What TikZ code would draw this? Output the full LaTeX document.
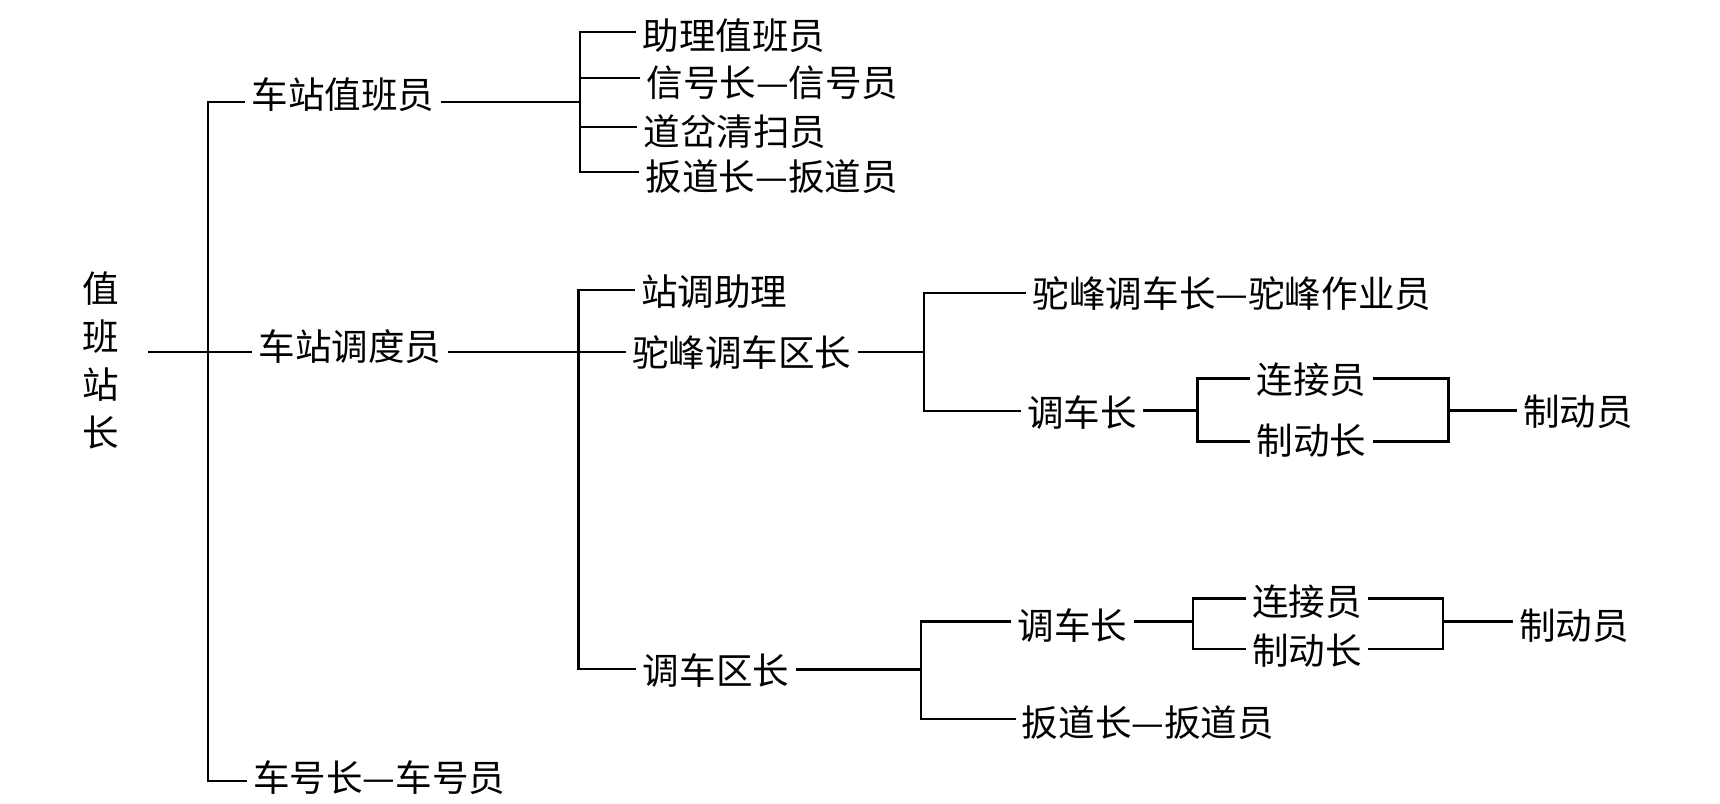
\documentclass[tikz,border=0pt]{standalone}
\usepackage{fontspec}
\newfontfamily\cjk{Noto Sans CJK SC}
\begin{document}
\begin{tikzpicture}[x=0.01cm,y=-0.01cm,
  lbl/.style={font=\cjk\fontsize{10.4}{12}\selectfont, inner xsep=2pt, inner ysep=1pt},
  ln/.style={line width=0.75pt, line cap=rect}]
\useasboundingbox (0,0) rectangle (1720,804);
% nodes
\node[lbl, align=center, font=\cjk\fontsize{10.4}{13.7}\selectfont, inner xsep=8.5pt] (root) at (100.5,360.5) {值\\班\\站\\长};
\node[lbl] (zbz) at (343,95) {车站值班员};
\node[lbl] (ddy) at (350,347) {车站调度员};
\node[lbl] (chz) at (379.3,778) {车号长—车号员};
\node[lbl] (zlz) at (734,36) {助理值班员};
\node[lbl] (xhz) at (772.5,82.5) {信号长—信号员};
\node[lbl] (dcq) at (735,131.5) {道岔清扫员};
\node[lbl] (bdz) at (771.7,176.5) {扳道长—扳道员};
\node[lbl] (zdzl) at (714.4,291.7) {站调助理};
\node[lbl] (tfq) at (741.8,353) {驼峰调车区长};
\node[lbl] (tfz) at (1232,294) {驼峰调车长—驼峰作业员};
\node[lbl] (dcz1) at (1082,413) {调车长};
\node[lbl] (ljy1) at (1311.5,380) {连接员};
\node[lbl] (zdz1) at (1311.5,440.5) {制动长};
\node[lbl] (zdy1) at (1578,411.7) {制动员};
\node[lbl] (dcq2) at (716,671) {调车区长};
\node[lbl] (dcz2) at (1072.3,626) {调车长};
\node[lbl] (ljy2) at (1307,602) {连接员};
\node[lbl] (zdz2) at (1307,651) {制动长};
\node[lbl] (zdy2) at (1574,626) {制动员};
\node[lbl] (bdz2) at (1148,723) {扳道长—扳道员};
% junction coordinates
\coordinate (t1) at (208,102);
\coordinate (t2) at (208,352);
\coordinate (t3) at (208,781);
\coordinate (a0) at (580,102);
\coordinate (a1) at (580,32);
\coordinate (a2) at (580,78);
\coordinate (a3) at (580,127);
\coordinate (a4) at (580,172);
\coordinate (b0) at (578.5,352);
\coordinate (b1) at (578.5,290);
\coordinate (b2) at (578.5,669);
\coordinate (c0) at (924,352);
\coordinate (c1) at (924,293);
\coordinate (c2) at (924,411);
\coordinate (d0) at (1197.6,410.7);
\coordinate (d1) at (1197.6,378.3);
\coordinate (d2) at (1197.6,441.7);
\coordinate (e0) at (1448.6,410.7);
\coordinate (e1) at (1448.6,378.3);
\coordinate (e2) at (1448.6,441.7);
\coordinate (f0) at (921,669.3);
\coordinate (f1) at (921,621.7);
\coordinate (f2) at (921,719);
\coordinate (g0) at (1193,621.7);
\coordinate (g1) at (1193,598.3);
\coordinate (g2) at (1193,649);
\coordinate (h0) at (1443,621.7);
\coordinate (h1) at (1443,598.3);
\coordinate (h2) at (1443,649);
% connectors
\draw[ln] (root.east |- t2) -- (t2) -- (ddy.west |- t2);
\draw[ln] (chz.west |- t3) -- (t3) -- (t1) -- (zbz.west |- t1);
\draw[ln] (zbz.east |- a0) -- (a0);
\draw[ln] (zlz.west |- a1) -- (a1) -- (a4) -- (bdz.west |- a4);
\draw[ln] (a2) -- (xhz.west |- a2);
\draw[ln] (a3) -- (dcq.west |- a3);
\draw[ln] (ddy.east |- b0) -- (b0) -- (tfq.west |- b0);
\draw[ln] (zdzl.west |- b1) -- (b1) -- (b2) -- (dcq2.west |- b2);
\draw[ln] (tfq.east |- c0) -- (c0);
\draw[ln] (tfz.west |- c1) -- (c1) -- (c2) -- (dcz1.west |- c2);
\draw[ln] (dcz1.east |- d0) -- (d0);
\draw[ln] (ljy1.west |- d1) -- (d1) -- (d2) -- (zdz1.west |- d2);
\draw[ln] (ljy1.east |- e1) -- (e1) -- (e2) -- (zdz1.east |- e2);
\draw[ln] (e0) -- (zdy1.west |- e0);
\draw[ln] (dcq2.east |- f0) -- (f0);
\draw[ln] (dcz2.west |- f1) -- (f1) -- (f2) -- (bdz2.west |- f2);
\draw[ln] (dcz2.east |- g0) -- (g0);
\draw[ln] (ljy2.west |- g1) -- (g1) -- (g2) -- (zdz2.west |- g2);
\draw[ln] (ljy2.east |- h1) -- (h1) -- (h2) -- (zdz2.east |- h2);
\draw[ln] (h0) -- (zdy2.west |- h0);
\end{tikzpicture}
\end{document}
